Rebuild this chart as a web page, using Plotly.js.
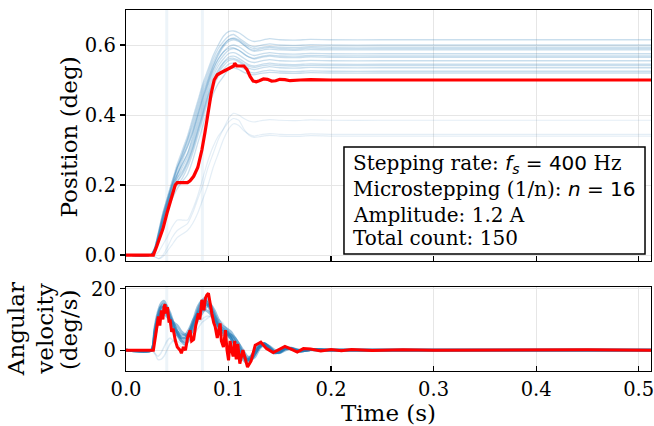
<!DOCTYPE html>
<html><head><meta charset="utf-8">
<script src="https://cdn.plot.ly/plotly-3.0.1.min.js"></script>
<style>body{margin:0;padding:0;background:#fff}#chart{width:654px;height:426px}</style>
</head><body><div id="chart"></div>
<script>
// ---------- Position (deg): blue runs on common time grid ----------
const tPos = [0,0.024,0.028,0.032,0.036,0.04,0.045,0.05,0.055,0.06,0.065,0.07,0.075,0.08,0.085,0.09,0.095,0.1,0.105,0.11,0.115,0.12,0.125,0.13,0.14,0.15,0.165,0.18,0.2,0.25,0.3,0.4,0.512];
const pos1 = [0,0,0.02,0.07,0.12,0.16,0.21,0.26,0.30,0.34,0.39,0.44,0.49,0.53,0.57,0.60,0.625,0.638,0.64,0.635,0.625,0.615,0.61,0.612,0.618,0.615,0.614,0.616,0.615,0.615,0.615,0.615,0.615];
const pos2 = [0,0,0.015,0.06,0.11,0.15,0.2,0.25,0.29,0.33,0.38,0.43,0.48,0.52,0.56,0.59,0.61,0.625,0.63,0.62,0.61,0.6,0.595,0.598,0.603,0.6,0.599,0.601,0.6,0.6,0.6,0.6,0.6];
const pos3 = [0,0,0.02,0.065,0.115,0.155,0.2,0.24,0.28,0.32,0.36,0.41,0.46,0.5,0.54,0.57,0.595,0.61,0.615,0.61,0.6,0.59,0.585,0.588,0.593,0.59,0.589,0.591,0.59,0.59,0.59,0.59,0.59];
const pos4 = [0,0,0.015,0.055,0.1,0.14,0.19,0.23,0.27,0.31,0.35,0.4,0.45,0.49,0.53,0.56,0.58,0.595,0.6,0.595,0.585,0.575,0.57,0.573,0.578,0.575,0.574,0.576,0.575,0.575,0.575,0.575,0.575];
const pos5 = [0,0,0.02,0.06,0.11,0.15,0.2,0.23,0.26,0.29,0.33,0.38,0.43,0.48,0.52,0.55,0.57,0.585,0.59,0.585,0.575,0.565,0.56,0.563,0.568,0.565,0.564,0.566,0.565,0.565,0.565,0.565,0.565];
const pos6 = [0,0,0.01,0.05,0.1,0.14,0.18,0.22,0.25,0.28,0.32,0.37,0.42,0.47,0.51,0.54,0.56,0.575,0.578,0.572,0.562,0.553,0.55,0.553,0.558,0.555,0.554,0.556,0.555,0.555,0.555,0.555,0.555];
const pos7 = [0,0,0.015,0.055,0.1,0.14,0.19,0.22,0.24,0.27,0.31,0.36,0.41,0.46,0.5,0.53,0.55,0.565,0.568,0.562,0.552,0.543,0.54,0.543,0.548,0.545,0.544,0.546,0.545,0.545,0.545,0.545,0.545];
const pos8 = [0,0,0.01,0.045,0.09,0.13,0.18,0.21,0.23,0.26,0.3,0.35,0.4,0.45,0.49,0.52,0.54,0.555,0.558,0.552,0.542,0.533,0.53,0.533,0.538,0.535,0.534,0.536,0.535,0.535,0.535,0.535,0.535];
const pos9 = [0,0,0.01,0.05,0.095,0.135,0.18,0.2,0.22,0.25,0.29,0.34,0.39,0.44,0.48,0.51,0.53,0.545,0.548,0.542,0.532,0.523,0.52,0.523,0.528,0.525,0.524,0.526,0.525,0.525,0.525,0.525,0.525];
const pos10 = [0,0,0.01,0.04,0.08,0.12,0.16,0.19,0.21,0.23,0.27,0.32,0.37,0.42,0.46,0.49,0.51,0.53,0.535,0.53,0.522,0.517,0.515,0.518,0.522,0.52,0.519,0.521,0.52,0.52,0.52,0.52,0.52];
const pos11 = [0,0,0.02,0.065,0.11,0.15,0.2,0.25,0.28,0.31,0.35,0.4,0.45,0.5,0.54,0.575,0.6,0.615,0.62,0.615,0.605,0.595,0.59,0.592,0.596,0.594,0.593,0.595,0.594,0.594,0.594,0.594,0.594];
const pos12 = [0,0,0.015,0.055,0.105,0.145,0.19,0.23,0.26,0.29,0.34,0.39,0.44,0.49,0.53,0.56,0.58,0.59,0.592,0.585,0.574,0.566,0.562,0.566,0.571,0.569,0.568,0.57,0.569,0.569,0.569,0.569,0.569];
const pos13 = [0,0,0.015,0.05,0.095,0.135,0.18,0.21,0.235,0.265,0.305,0.355,0.405,0.455,0.495,0.525,0.548,0.56,0.562,0.556,0.546,0.539,0.536,0.539,0.543,0.541,0.54,0.542,0.541,0.541,0.541,0.541,0.541];
const pos14 = [0,0,0.02,0.07,0.12,0.16,0.21,0.25,0.29,0.33,0.37,0.42,0.47,0.51,0.55,0.58,0.6,0.615,0.618,0.612,0.6,0.588,0.582,0.584,0.588,0.586,0.585,0.587,0.586,0.586,0.586,0.586,0.586];
const posLow1 = [0,0,-0.005,-0.01,0,0.02,0.05,0.07,0.08,0.09,0.12,0.16,0.2,0.25,0.29,0.33,0.36,0.39,0.405,0.4,0.39,0.383,0.38,0.383,0.387,0.385,0.384,0.386,0.385,0.385,0.385,0.385,0.385];
const posLow2 = [0,0,-0.005,-0.01,-0.005,0.01,0.03,0.05,0.06,0.07,0.09,0.12,0.16,0.2,0.25,0.29,0.33,0.36,0.375,0.37,0.355,0.345,0.34,0.343,0.347,0.345,0.344,0.346,0.345,0.345,0.345,0.345,0.345];
const posLow3 = [0,0,0,0.01,0.03,0.05,0.08,0.1,0.1,0.1,0.13,0.17,0.22,0.27,0.31,0.34,0.36,0.38,0.39,0.385,0.36,0.342,0.336,0.338,0.342,0.34,0.339,0.341,0.34,0.34,0.34,0.34,0.34];
const bluePosMain = [pos1,pos2,pos3,pos4,pos5,pos6,pos7,pos8,pos9,pos10,pos11,pos12,pos13,pos14];
const bluePosLow = [posLow1,posLow2,posLow3];

// ---------- Position: red mean ----------
const tRedPos = [0,0.0267,0.03,0.033,0.036,0.04,0.043,0.046,0.048,0.05,0.055,0.06,0.0625,0.066,0.07,0.074,0.077,0.08,0.083,0.086,0.089,0.092,0.095,0.098,0.1,0.103,0.105,0.106,0.108,0.112,0.115,0.118,0.121,0.124,0.127,0.13,0.134,0.138,0.142,0.146,0.15,0.155,0.16,0.17,0.18,0.2,0.25,0.3,0.4,0.512];
const redPos = [0,0,0.025,0.05,0.075,0.12,0.15,0.18,0.2,0.207,0.206,0.207,0.212,0.225,0.25,0.3,0.35,0.41,0.46,0.5,0.515,0.52,0.525,0.53,0.533,0.537,0.54,0.548,0.54,0.54,0.54,0.53,0.51,0.497,0.495,0.498,0.503,0.502,0.497,0.498,0.502,0.501,0.498,0.5,0.501,0.5,0.5,0.5,0.5,0.5];

// ---------- Angular velocity (deg/s): blue runs ----------
const tVel = [0,0.025,0.028,0.031,0.034,0.037,0.04,0.043,0.046,0.05,0.054,0.058,0.062,0.066,0.07,0.074,0.078,0.082,0.086,0.09,0.094,0.098,0.102,0.106,0.11,0.114,0.118,0.122,0.126,0.13,0.135,0.14,0.145,0.15,0.155,0.16,0.17,0.18,0.2,0.25,0.3,0.4,0.512];
const vel1 = [0,0,5,10,13,14,13,11,9,6,4,4,6,9,12,14,15,14,11,8,6,5,4,2,0,-2,-3,-2,0,1.5,2,0.5,-0.8,-0.5,0.6,0.6,-0.3,0.2,0,0,0,0,0];
const vel2 = [0,0,6,11,14,15,14,12,9,6,3,2,4,8,12,15,16,14,11,8,6,6,5,3,1,-1,-3,-3,-1,1,2,1,-0.5,-0.8,0.4,0.7,-0.2,0.2,0,0,0,0,0];
const vel3 = [0,0,4,9,12,13,12,10,8,6,5,5,7,10,12,13,13,12,10,8,7,6,4,1,-1,-3,-4,-2,0,2,2,0,-1,-0.3,0.8,0.4,-0.4,0.2,0,0,0,0,0];
const vel4 = [0,0,7,12,15,16,14,11,8,5,3,3,6,10,14,16,16,13,10,7,5,5,5,4,2,0,-2,-3,-2,0.5,2,1.2,0,-0.8,0,0.6,0,0.1,0,0,0,0,0];
const vel5 = [0,0,5,10,12,12,11,10,9,8,6,5,5,7,10,12,14,15,13,10,8,7,6,4,2,-1,-3,-3,-1,1,2.2,0.8,-0.6,-0.6,0.5,0.6,-0.3,0.2,0,0,0,0,0];
const vel6 = [0,0,6,11,14,14,12,9,7,5,4,4,6,9,13,16,17,15,12,9,7,6,4,2,0,-2,-3.5,-3,-1,1.2,2.2,0.7,-0.7,-0.6,0.5,0.6,-0.3,0.2,0,0,0,0,0];
const velLow1 = [0,0,-1,-2,-1,1,3,4,3,2,1,2,5,8,9,10,11,11,10,9,8,7,5,3,1,-1,-2,-2,-1,0.5,1.2,0.5,-0.4,-0.4,0.3,0.3,-0.2,0.1,0,0,0,0,0];
const velLow2 = [0,0,-1,-3,-3,-2,0,2,3,3,2,2,3,5,7,9,10,11,11,10,9,7,5,2,0,-2,-3,-2,-0.5,0.8,1.5,0.5,-0.5,-0.3,0.4,0.3,-0.2,0.1,0,0,0,0,0];
const blueVelMain = [vel1,vel2,vel3,vel4,vel5,vel6];
const blueVelLow = [velLow1,velLow2];

// ---------- Angular velocity: red mean ----------
const tRedVel = [0,0.0267,0.029,0.0316,0.033,0.0345,0.036,0.037,0.038,0.039,0.0405,0.042,0.043,0.0445,0.046,0.048,0.05,0.0527,0.054,0.056,0.058,0.06,0.0625,0.064,0.066,0.068,0.0706,0.072,0.074,0.076,0.0775,0.0788,0.0804,0.082,0.0837,0.0855,0.087,0.089,0.0905,0.0918,0.093,0.095,0.097,0.0985,0.1,0.1015,0.103,0.1045,0.106,0.1075,0.109,0.111,0.114,0.1185,0.122,0.126,0.1315,0.137,0.1436,0.149,0.155,0.161,0.167,0.173,0.18,0.19,0.2,0.21,0.22,0.24,0.27,0.3,0.35,0.4,0.45,0.512];
const redVel = [0,0,5,11,8,13,10,14,15,12,14,9,10,6,7,3.3,1,0,-1,1,0,4,6.5,3,3.5,8,12,10,16.4,13,17,18,18.6,15,12,9,7.6,4,6,8.7,3,1,6.5,0,-3.3,3,0,-2,3,-3,2,-4.4,0,-5.5,-3.5,1.6,2.6,0.5,-0.8,0.2,1.2,0.3,-0.6,0.5,0.4,-0.3,0.2,-0.2,0.2,-0.1,0.1,0,0.1,0,0.1,0];

// faint vertical marks present in the reference
const markTimes = [0.0397, 0.0745];

// text
const boxLines = [
  'Stepping rate: <span style="font-family:DejaVu Sans"><i>f<sub>s</sub></i> = 400</span> Hz',
  'Microstepping (1/n): <span style="font-family:DejaVu Sans"><i>n</i> = 16</span>',
  'Amplitude: 1.2 A',
  'Total count: 150'
];
const posTitle = 'Position (deg)';
const velTitleLines = ['Angular', 'velocity', '(deg/s)'];
const timeTitle = 'Time (s)';

// ---------- build ----------
const traces = [];
const addSet = (sets, tx, xa, ya, color, w) => sets.forEach(v => traces.push({x: tx, y: v, xaxis: xa, yaxis: ya, mode:'lines', line:{color: color, width: w, shape:'spline', smoothing:0.6}, hoverinfo:'skip', showlegend:false}));
addSet(bluePosMain, tPos, 'x', 'y', 'rgba(31,119,180,0.24)', 1.3);
addSet(bluePosLow, tPos, 'x', 'y', 'rgba(31,119,180,0.12)', 1.2);
addSet(blueVelMain, tVel, 'x2', 'y2', 'rgba(31,119,180,0.45)', 2.8);
addSet(blueVelLow, tVel, 'x2', 'y2', 'rgba(31,119,180,0.15)', 1.5);
traces.push({x: tRedPos, y: redPos, xaxis:'x', yaxis:'y', mode:'lines', line:{color:'#ff0000', width:3.2}, showlegend:false});
traces.push({x: tRedVel, y: redVel, xaxis:'x2', yaxis:'y2', mode:'lines', line:{color:'#ff0000', width:3}, showlegend:false});

const serif = 'DejaVu Serif, serif';
const tickVals = [0,0.1,0.2,0.3,0.4,0.5];
const tickText = ['0.0','0.1','0.2','0.3','0.4','0.5'];
const tickSize = 19.5, titleSize = 23, boxSize = 20;
const common = {showline:true, mirror:true, linecolor:'#000', linewidth:1.3, showgrid:true, gridcolor:'#e6e6e6', gridwidth:1, zeroline:false, tickfont:{family:serif, size:tickSize, color:'#000'}, tickcolor:'#000', ticklen:5, tickwidth:1.2, ticklabeloverflow:'allow'};

const shapes = [];
markTimes.forEach(t => {
  shapes.push({type:'line', xref:'x', yref:'y domain', x0:t, x1:t, y0:0, y1:1, line:{color:'rgba(31,119,180,0.08)', width:3}, layer:'below'});
  shapes.push({type:'line', xref:'x2', yref:'y2 domain', x0:t, x1:t, y0:0, y1:1, line:{color:'rgba(31,119,180,0.08)', width:3}, layer:'below'});
});
shapes.push({type:'rect', xref:'paper', yref:'paper', x0:0.4152, x1:0.9886, y0:0.3241, y1:0.6205, line:{color:'#000', width:1.5}, fillcolor:'#fff', layer:'above'});

const boxY = [0.574, 0.504, 0.433, 0.369];
const annotations = boxLines.map((s,i) => ({xref:'paper', yref:'paper', x:0.428, y:boxY[i], xanchor:'left', yanchor:'middle', text:s, showarrow:false, font:{family:serif, size:boxSize, color:'#000'}}));
const velTitleX = [-0.2095, -0.1533, -0.1086];
velTitleLines.forEach((s,i) => annotations.push({xref:'paper', yref:'paper', x:velTitleX[i], y:0.116, xanchor:'center', yanchor:'middle', textangle:-90, text:s, showarrow:false, font:{family:serif, size:titleSize, color:'#000'}}));
annotations.push({xref:'paper', yref:'paper', x:-0.1067, y:0.6496, xanchor:'center', yanchor:'middle', textangle:-90, text:posTitle, showarrow:false, font:{family:serif, size:titleSize, color:'#000'}});

const layout = {
  width:654, height:426,
  margin:{l:126, r:3, t:10, b:55},
  paper_bgcolor:'#fff', plot_bgcolor:'#fff',
  font:{family:serif, color:'#000'},
  xaxis: Object.assign({}, common, {domain:[0,1], anchor:'y', range:[0,0.512], tickvals:tickVals, ticktext:tickText, showticklabels:false, ticks:'inside'}),
  yaxis: Object.assign({}, common, {domain:[0.3047,1], anchor:'x', range:[-0.017,0.70], tickvals:[0,0.2,0.4,0.6], ticktext:['0.0','0.2','0.4','0.6'], ticks:'outside'}),
  xaxis2: Object.assign({}, common, {domain:[0,1], anchor:'y2', range:[0,0.512], tickvals:tickVals, ticktext:tickText, ticks:'inside', title:{text:timeTitle, font:{family:serif, size:titleSize, color:'#000'}}}),
  yaxis2: Object.assign({}, common, {domain:[0,0.2327], anchor:'x2', range:[-6.8,20.6], tickvals:[0,20], ticktext:['0','20'], ticks:'outside'}),
  shapes: shapes,
  annotations: annotations
};
Plotly.newPlot('chart', traces, layout, {staticPlot:true, displayModeBar:false});
</script></body></html>
